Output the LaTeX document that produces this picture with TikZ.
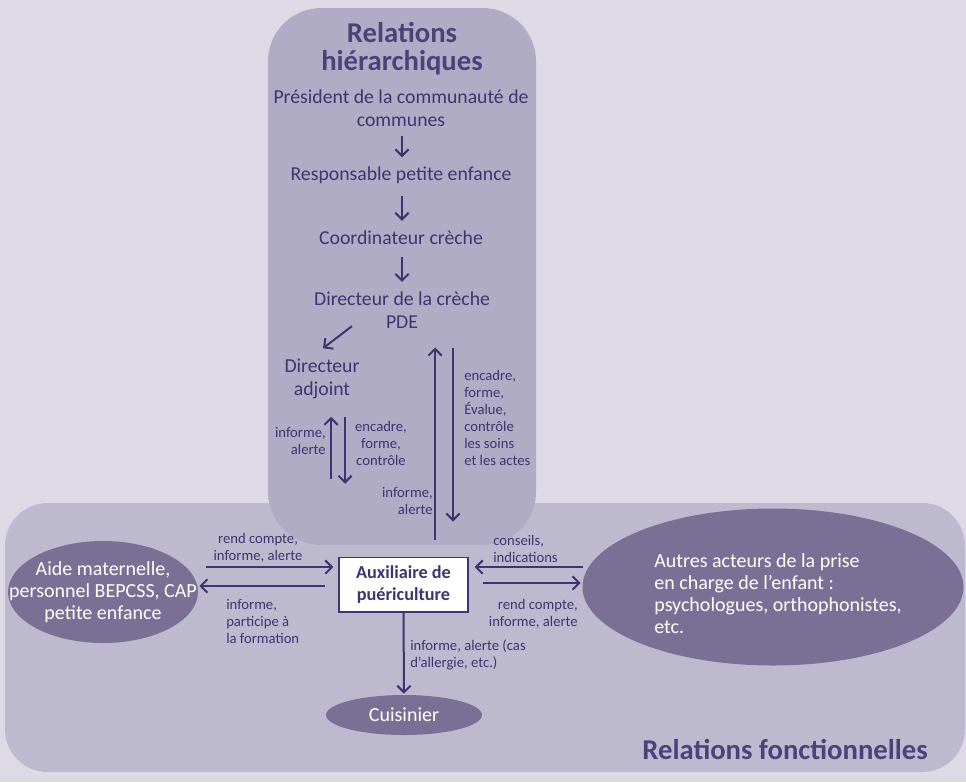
\documentclass[tikz,border=0pt]{standalone}
\usepackage{fontspec}
\setmainfont{Carlito}
\usetikzlibrary{arrows.meta,shapes.geometric,calc}
\definecolor{bgc}{RGB}{221,218,230}
\definecolor{hierc}{RGB}{176,172,198}
\definecolor{fonc}{RGB}{189,186,207}
\definecolor{ovalc}{RGB}{122,112,150}
\definecolor{ink}{RGB}{62,52,112}
\definecolor{titlec}{RGB}{75,66,122}
\begin{document}
\begin{tikzpicture}[x=0.75pt,y=-0.75pt,
  txt/.style={text=ink, inner sep=0pt, font=\fontsize{14.8}{17.25}\selectfont, align=center},
  lbl/.style={text=ink, inner sep=0pt, font=\fontsize{11}{12.75}\selectfont},
  ttl/.style={text=titlec, inner sep=0pt, font=\fontsize{21.5}{21}\selectfont\bfseries, align=center},
  oval/.style={ellipse, fill=ovalc, inner sep=0pt},
  ovaltxt/.style={text=white, inner sep=0pt, font=\fontsize{15}{16.5}\selectfont},
  arr/.style={draw=ink, line width=1.5pt, -{Straight Barb[length=5pt,width=10pt]}},
  auxbox/.style={draw=ink, line width=1pt, fill=white, minimum width=96.75pt, minimum height=41pt, inner sep=0pt, align=center, text=ink, font=\fontsize{13.7}{16}\selectfont\bfseries}
]
\useasboundingbox (0,0) rectangle (966,782);
\fill[bgc] (0,0) rectangle (966,782);
\fill[fonc, rounded corners=32pt] (5,503) rectangle (965,772);
\fill[hierc, rounded corners=40pt] (268,8) rectangle (536,545);

% hierarchy
\node[ttl] (title) at (402,49) {Relations\\hiérarchiques};
\node[txt] (pres) at (401,108.5) {Président de la communauté de\\communes};
\node[txt] (resp) at (401,175) {Responsable petite enfance};
\node[txt] (coord) at (401,238) {Coordinateur crèche};
\node[txt] (dir) at (402,310.5) {Directeur de la crèche\\PDE};
\node[txt] (adj) at (322,378.5) {Directeur\\adjoint};

\draw[arr] ($(pres.south)+(1,9)$) -- ($(resp.north)+(1,-9)$);
\draw[arr] ($(resp.south)+(1,12)$) -- ($(coord.north)+(1,-10)$);
\draw[arr] ($(coord.south)+(1,12)$) -- ($(dir.north)+(0,-10)$);
\draw[arr] ($(dir.south)+(-50,-3)$) -- ($(adj.north)+(1,-10)$);

% adjoint arrows
\draw[arr] ($(adj.south)+(9,80)$) -- ($(adj.south)+(9,18)$);
\draw[arr] ($(adj.south)+(23,18)$) -- ($(adj.south)+(23,85)$);
\node[lbl, align=right, anchor=east] (l1) at (326,440.5) {informe,\\alerte};
\node[lbl, align=center] (l2) at (381,443) {encadre,\\forme,\\contrôle};

% auxiliaire
\node[auxbox] (aux) at (403.5,584.5) {Auxiliaire de\\puériculture};

% long arrows
\draw[arr] ($(aux.north)+(31.5,-17)$) -- ($(aux.north)+(31.5,-209)$);
\draw[arr] ($(aux.north)+(49.5,-209)$) -- ($(aux.north)+(49.5,-35)$);
\node[lbl, align=left, anchor=west] (l3) at (464,417.5) {encadre,\\forme,\\Évalue,\\contrôle\\les soins\\et les actes};
\node[lbl, align=right, anchor=east] (l4) at (433,500.5) {informe,\\alerte};

% functional
\node[oval, minimum width=142.5pt, minimum height=76.5pt] (aide) at (103,592) {};
\node[ovaltxt, align=center] (aideT) at (aide) {Aide maternelle,\\personnel BEPCSS, CAP\\petite enfance};
\node[oval, minimum width=285.75pt, minimum height=117.75pt] (autres) at (773,587) {};
\node[ovaltxt, align=left] (autresT) at (778,593.5) {Autres acteurs de la prise\\en charge de l’enfant :\\psychologues, orthophonistes,\\etc.};
\node[oval, minimum width=117pt, minimum height=30pt] (cuis) at (404,715) {};
\node[ovaltxt] (cuisT) at (cuis) {Cuisinier};

\draw[arr] ($(aux.west)+(-132,-17.5)$) -- ($(aux.west)+(-5,-17.5)$);
\draw[arr] ($(aux.west)+(-13,1.5)$) -- ($(aux.west)+(-139,1.5)$);
\draw[arr] ($(aux.east)+(114,-17.5)$) -- ($(aux.east)+(6,-17.5)$);
\draw[arr] ($(aux.east)+(14,-1.5)$) -- ($(aux.east)+(112,-1.5)$);
\draw[arr] (aux.south) -- ($(cuis.north)+(0,-1)$);

\node[lbl, align=center] (l5) at (258,547.5) {rend compte,\\informe, alerte};
\node[lbl, align=left, anchor=west] (l6) at (226,621) {informe,\\participe à\\la formation};
\node[lbl, align=left, anchor=west] (l7) at (493,548.5) {conseils,\\indications};
\node[lbl, align=right, anchor=east] (l8) at (578,613.5) {rend compte,\\informe, alerte};
\node[lbl, align=left, anchor=west] (l9) at (410,655) {informe, alerte (cas\\d’allergie, etc.)};

\node[ttl, anchor=east] (title2) at (928,750) {Relations fonctionnelles};
\end{tikzpicture}
\end{document}
